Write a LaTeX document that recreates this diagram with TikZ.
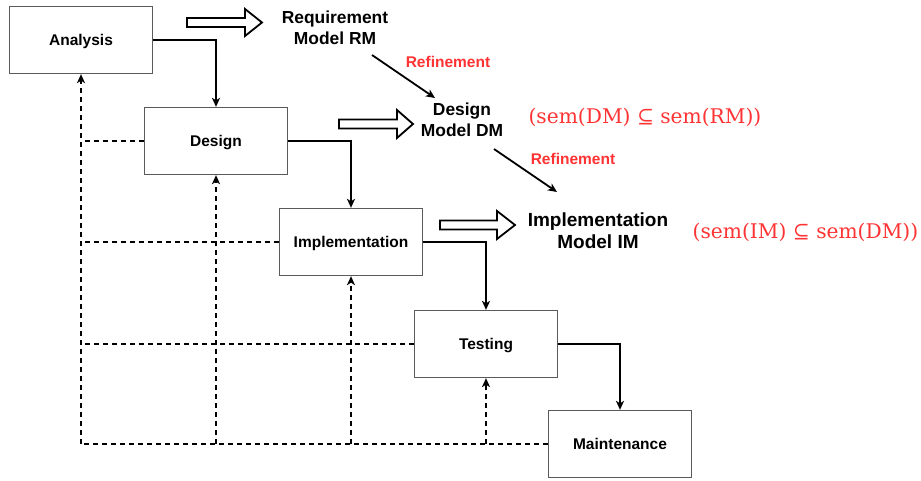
\documentclass[tikz,border=0pt]{standalone}
\usepackage{fontspec}
\setmainfont{Liberation Sans}
\newfontfamily\semfont{DejaVu Serif}
\usetikzlibrary{arrows.meta}
\definecolor{refred}{RGB}{255,51,51}
\definecolor{boxgray}{RGB}{90,90,90}
\tikzset{
  stagebox/.style={draw=boxgray, line width=1.3pt, fill=white, minimum width=143pt, minimum height=67pt, inner sep=0pt, text height=11.2pt, text depth=0pt, font=\fontsize{15.5}{18}\selectfont\bfseries},
  conn/.style={line width=2pt, -{Stealth[length=9pt,width=8pt,inset=2.5pt]}},
  dsh/.style={line width=2pt, dash pattern=on 5pt off 4pt},
  dsharrow/.style={dsh, -{Stealth[length=9pt,width=8pt,inset=2.5pt]}},
  modeltext/.style={align=center, font=\fontsize{17.4}{21}\selectfont\bfseries},
  reftext/.style={text=refred, font=\fontsize{15.5}{18}\selectfont\bfseries},
  mathtext/.style={text=refred, font=\semfont\fontsize{20.2}{24}\selectfont},
  blockarrow/.style={draw=black, line width=1.8pt, fill=white, line join=miter},
  refarrow/.style={line width=1.8pt, -{Stealth[length=9pt,width=8pt,inset=2.5pt]}}
}
\begin{document}
\begin{tikzpicture}[x=1pt,y=-1pt]
\useasboundingbox (0,0) rectangle (921,481);
% stage boxes
\node[stagebox] (ana) at (81,40) {Analysis};
\node[stagebox] (des) at (216,141) {Design};
\node[stagebox] (imp) at (351,242) {Implementation};
\node[stagebox] (tes) at (486,344) {Testing};
\node[stagebox] (mai) at (620,444) {Maintenance};
% solid flow
\draw[conn] (ana.east) -| (des.north);
\draw[conn] (des.east) -| (imp.north);
\draw[conn] (imp.east) -| (tes.north);
\draw[conn] (tes.east) -| (mai.north);
% dashed feedback
\coordinate (corner) at (81,444);
\draw[dsh] (mai.west) -- (corner);
\draw[dsharrow] (corner) -- (ana.south);
\draw[dsh] (des.west) -- (des.west -| corner);
\draw[dsh] (imp.west) -- (imp.west -| corner);
\draw[dsh] (tes.west) -- (tes.west -| corner);
\draw[dsharrow] (des.south |- corner) -- (des.south);
\draw[dsharrow] (imp.south |- corner) -- (imp.south);
\draw[dsharrow] (tes.south |- corner) -- (tes.south);
% block arrows
\draw[blockarrow] (187,18) -- (245,18) -- (245,9) -- (262,22.5) -- (245,36) -- (245,27) -- (187,27) -- cycle;
\draw[blockarrow] (339,119.5) -- (397,119.5) -- (397,110) -- (413,124) -- (397,138) -- (397,128.5) -- (339,128.5) -- cycle;
\draw[blockarrow] (440,220.5) -- (497,220.5) -- (497,211) -- (515,225) -- (497,239) -- (497,229.5) -- (440,229.5) -- cycle;
% model labels
\node[modeltext] (rm) at (335,27.5) {Requirement\\Model RM};
\node[modeltext] (dm) at (462,119.5) {Design\\Model DM};
\node[modeltext, font=\fontsize{19}{22}\selectfont\bfseries] (im) at (598,231) {Implementation\\Model IM};
% refinement arrows
\coordinate (r1s) at (372,55);
\coordinate (r1e) at (435,98);
\coordinate (r2s) at (494,149);
\coordinate (r2e) at (557,192);
\draw[refarrow] (r1s) -- (r1e);
\draw[refarrow] (r2s) -- (r2e);
\node[reftext] (ref1) at (448,62) {Refinement};
\node[reftext] (ref2) at (573,159) {Refinement};
% semantics
\node[mathtext] (sem1) at (645,117) {(sem(DM) ⊆ sem(RM))};
\node[mathtext] (sem2) at (805.5,232) {(sem(IM) ⊆ sem(DM))};
\end{tikzpicture}
\end{document}
